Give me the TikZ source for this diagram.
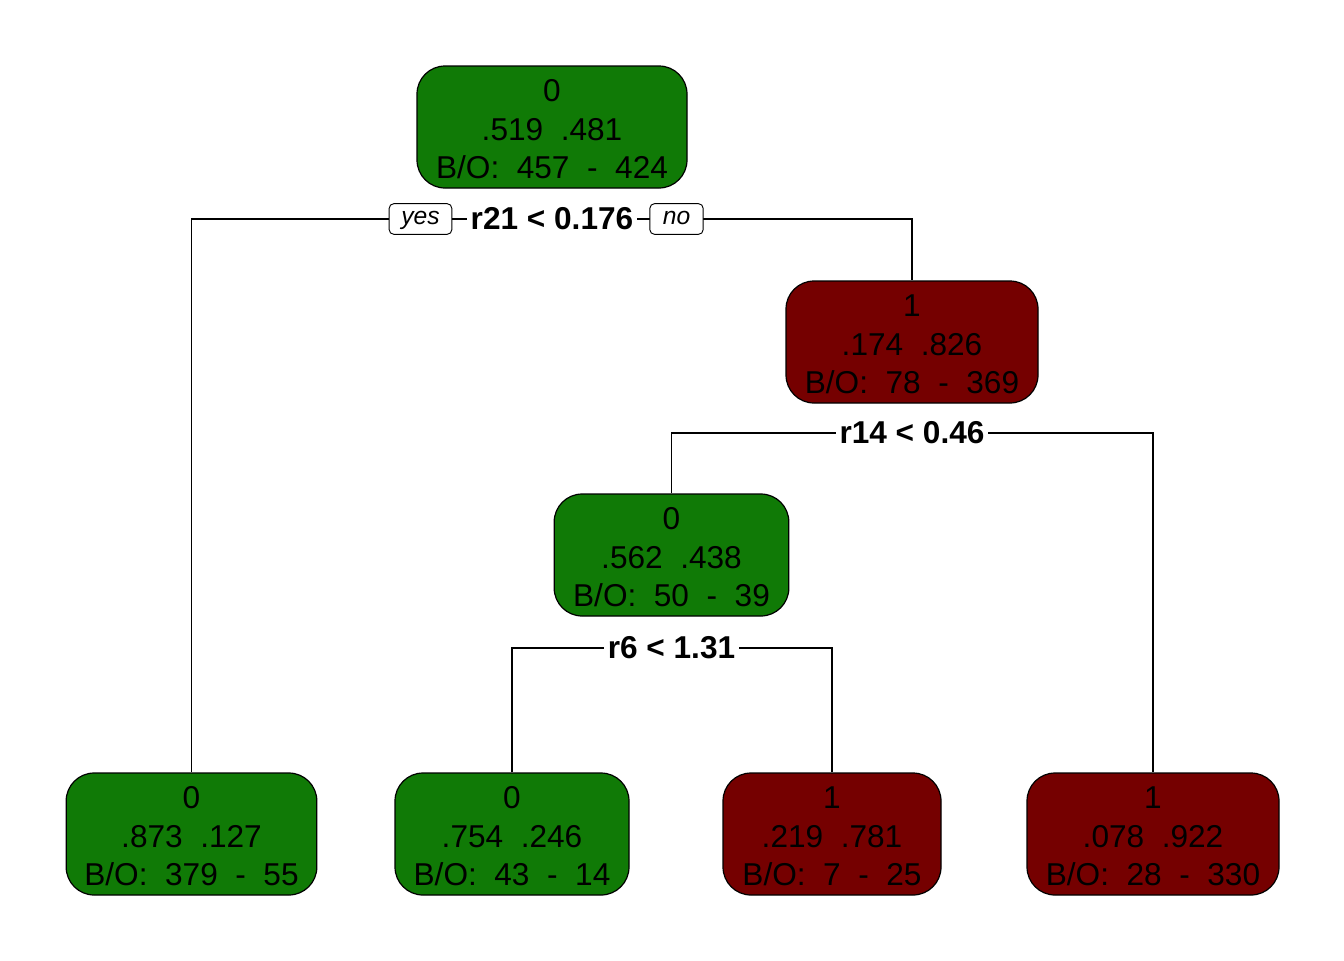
\documentclass[tikz,border=0pt]{standalone}
\usepackage{fontspec}
\setmainfont{Liberation Sans}
\definecolor{leafgreen}{RGB}{16,122,6}
\definecolor{leafred}{RGB}{117,0,0}
% raises the top of the first text line so the block sits a little lower
\newcommand{\toppad}{\rule{0pt}{20pt}}
\begin{document}
\begin{tikzpicture}[x=0.75pt,y=-0.75pt,
  treebox/.style={draw=black,line width=0.9pt,rounded corners=21pt,
    align=center,inner sep=0pt,minimum height=91.5pt,
    font=\fontsize{23.7}{28.9}\selectfont},
  greenbox/.style={treebox,fill=leafgreen},
  redbox/.style={treebox,fill=leafred},
  splitlabel/.style={fill=white,inner sep=3pt,font=\fontsize{23.7}{28}\bfseries\selectfont},
  answer/.style={draw=black,fill=white,line width=0.7pt,rounded corners=3.5pt,
    inner sep=0pt,minimum height=23pt,text height=12.5pt,text depth=4pt,
    font=\fontsize{18.5}{20}\itshape\selectfont},
  edge/.style={draw=black,line width=0.9pt}]
\useasboundingbox (0,0) rectangle (1344,960);

% tree nodes
\node[greenbox,minimum width=202.5pt] (root) at (552,127)
  {\toppad 0\\.519\ \ .481\\B/O:\ \ 457\ \ -\ \ 424};
\node[redbox,minimum width=189pt] (n2) at (912,342)
  {\toppad 1\\.174\ \ .826\\B/O:\ \ 78\ \ -\ \ 369};
\node[greenbox,minimum width=176pt] (n3) at (671.5,555)
  {\toppad 0\\.562\ \ .438\\B/O:\ \ 50\ \ -\ \ 39};
\node[greenbox,minimum width=188pt] (l1) at (191.5,834)
  {\toppad 0\\.873\ \ .127\\B/O:\ \ 379\ \ -\ \ 55};
\node[greenbox,minimum width=175.5pt] (l2) at (512,834)
  {\toppad 0\\.754\ \ .246\\B/O:\ \ 43\ \ -\ \ 14};
\node[redbox,minimum width=163.5pt] (l3) at (832,834)
  {\toppad 1\\.219\ \ .781\\B/O:\ \ 7\ \ -\ \ 25};
\node[redbox,minimum width=189pt] (l4) at (1153,834)
  {\toppad 1\\.078\ \ .922\\B/O:\ \ 28\ \ -\ \ 330};

% split points
\coordinate (s1) at (552,219);
\coordinate (s2) at (912,433);
\coordinate (s3) at (671.5,648);

% connectors
\draw[edge] (l1.north) |- (s1) -| (n2.north);
\draw[edge] (n3.north) |- (s2) -| (l4.north);
\draw[edge] (l2.north) |- (s3) -| (l3.north);

% split labels
\node[splitlabel] (t1) at (s1) {r21 < 0.176};
\node[splitlabel] (t2) at (s2) {r14 < 0.46};
\node[splitlabel] (t3) at (s3) {r6 < 1.31};

\node[answer,minimum width=47pt] (yes) at (420.5,219) {yes};
\node[answer,minimum width=40pt] (no) at (676.5,219) {no};
\end{tikzpicture}
\end{document}
